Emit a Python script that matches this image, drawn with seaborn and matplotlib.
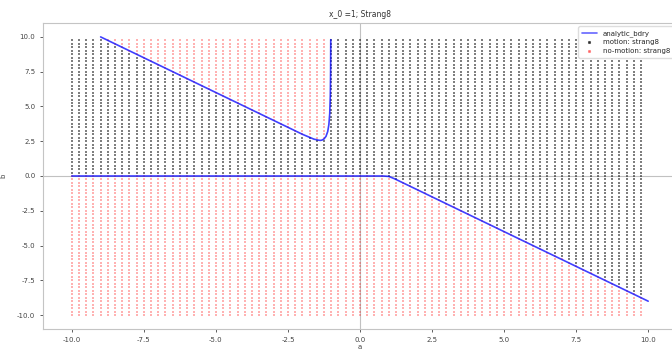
import numpy as np
import pandas as pd
import matplotlib
matplotlib.use("Agg")
import matplotlib.pyplot as plt
from matplotlib.lines import Line2D
import seaborn as sns

# Grid of sampled (a, b) points
grid_a = np.arange(-10, 10, 0.25)
grid_b = np.arange(-10, 10, 0.25)

# analytic boundary, upper branch
upper_a = [-9.0, -7.0, -5.0, -3.0, -2.0, -1.6, -1.45, -1.38, -1.32, -1.25, -1.18,
           -1.12, -1.08, -1.05, -1.03, -1.02, -1.015]
upper_b = [10.0, 8.0, 6.0, 4.0, 3.0, 2.65, 2.58, 2.56, 2.58, 2.66, 2.85,
           3.2, 3.7, 4.5, 5.8, 7.5, 9.8]
# analytic boundary, lower branch
lower_a = [-10.0, 0.8, 1.0, 1.2, 10.0]
lower_b = [0.0, 0.0, -0.03, -0.2, -9.0]

title = "x_0 =1; Strang8"
lab_line = "analytic_bdry"
lab_motion = "motion: strang8"
lab_nomotion = "no-motion: strang8"

sns.set_style("ticks")
plt.rcParams["font.family"] = ["DejaVu Sans"]

A, B = np.meshgrid(grid_a, grid_b)
A = A.ravel(); B = B.ravel()
low = np.interp(A, lower_a, lower_b)
up = np.interp(A, upper_a, upper_b)
in_upper = (A >= upper_a[0]) & (A <= upper_a[-1])
motion = (B > low) & (~in_upper | (B < up))
df = pd.DataFrame({"a": A, "b": B,
                   "label": np.where(motion, lab_motion, lab_nomotion)})

fig = plt.figure(figsize=(6.72, 3.49), dpi=100)
ax = fig.add_axes([43/672, 20/349, 634/672, 306/349])

ax.axhline(0, color="#999999", lw=0.8, alpha=0.6, zorder=1)
ax.axvline(0, color="#999999", lw=0.8, alpha=0.6, zorder=1)

sns.scatterplot(data=df[df.label == lab_motion], x="a", y="b", color="black",
                alpha=0.5, s=2.2, marker="s", linewidth=0, ax=ax, zorder=2,
                legend=False)
sns.scatterplot(data=df[df.label == lab_nomotion], x="a", y="b", color="red",
                alpha=0.3, s=2.2, marker="s", linewidth=0, ax=ax, zorder=2,
                legend=False)

up_df = pd.DataFrame({"a": upper_a, "b": upper_b})
lo_df = pd.DataFrame({"a": lower_a, "b": lower_b})
sns.lineplot(data=up_df, x="a", y="b", sort=False, estimator=None,
             color="blue", lw=1.2, alpha=0.75, ax=ax, zorder=3)
sns.lineplot(data=lo_df, x="a", y="b", sort=False, estimator=None,
             color="blue", lw=1.2, alpha=0.75, ax=ax, zorder=3)

ax.set_xlim(-11, 11)
ax.set_ylim(-11, 11)
ax.set_xticks([-10, -7.5, -5, -2.5, 0, 2.5, 5, 7.5, 10])
ax.set_yticks([-10, -7.5, -5, -2.5, 0, 2.5, 5, 7.5, 10])
ax.xaxis.set_major_formatter(matplotlib.ticker.FormatStrFormatter("%.1f"))
ax.yaxis.set_major_formatter(matplotlib.ticker.FormatStrFormatter("%.1f"))
ax.tick_params(labelsize=5, colors="#444444", length=2, width=0.6)
for s in ax.spines.values():
    s.set_color("#c4c4c4")
    s.set_linewidth(0.8)
ax.set_xlabel("a", fontsize=5, color="#444444", labelpad=1)
ax.set_ylabel("b", fontsize=5, color="#444444", labelpad=8)
ax.set_title(title, fontsize=5.5, color="#333333", pad=4)

handles = [
    Line2D([], [], color="blue", lw=1.2, alpha=0.6),
    Line2D([], [], color="black", marker="s", ms=1.2, lw=0, alpha=0.6),
    Line2D([], [], color="red", marker="s", ms=1.2, lw=0, alpha=0.4),
]
ax.legend(handles, [lab_line, lab_motion, lab_nomotion], loc="upper right",
          fontsize=5, frameon=True, framealpha=1, edgecolor="#dddddd",
          handlelength=2.2, borderpad=0.5, labelspacing=0.4)

fig.savefig("out.png", dpi=100)
